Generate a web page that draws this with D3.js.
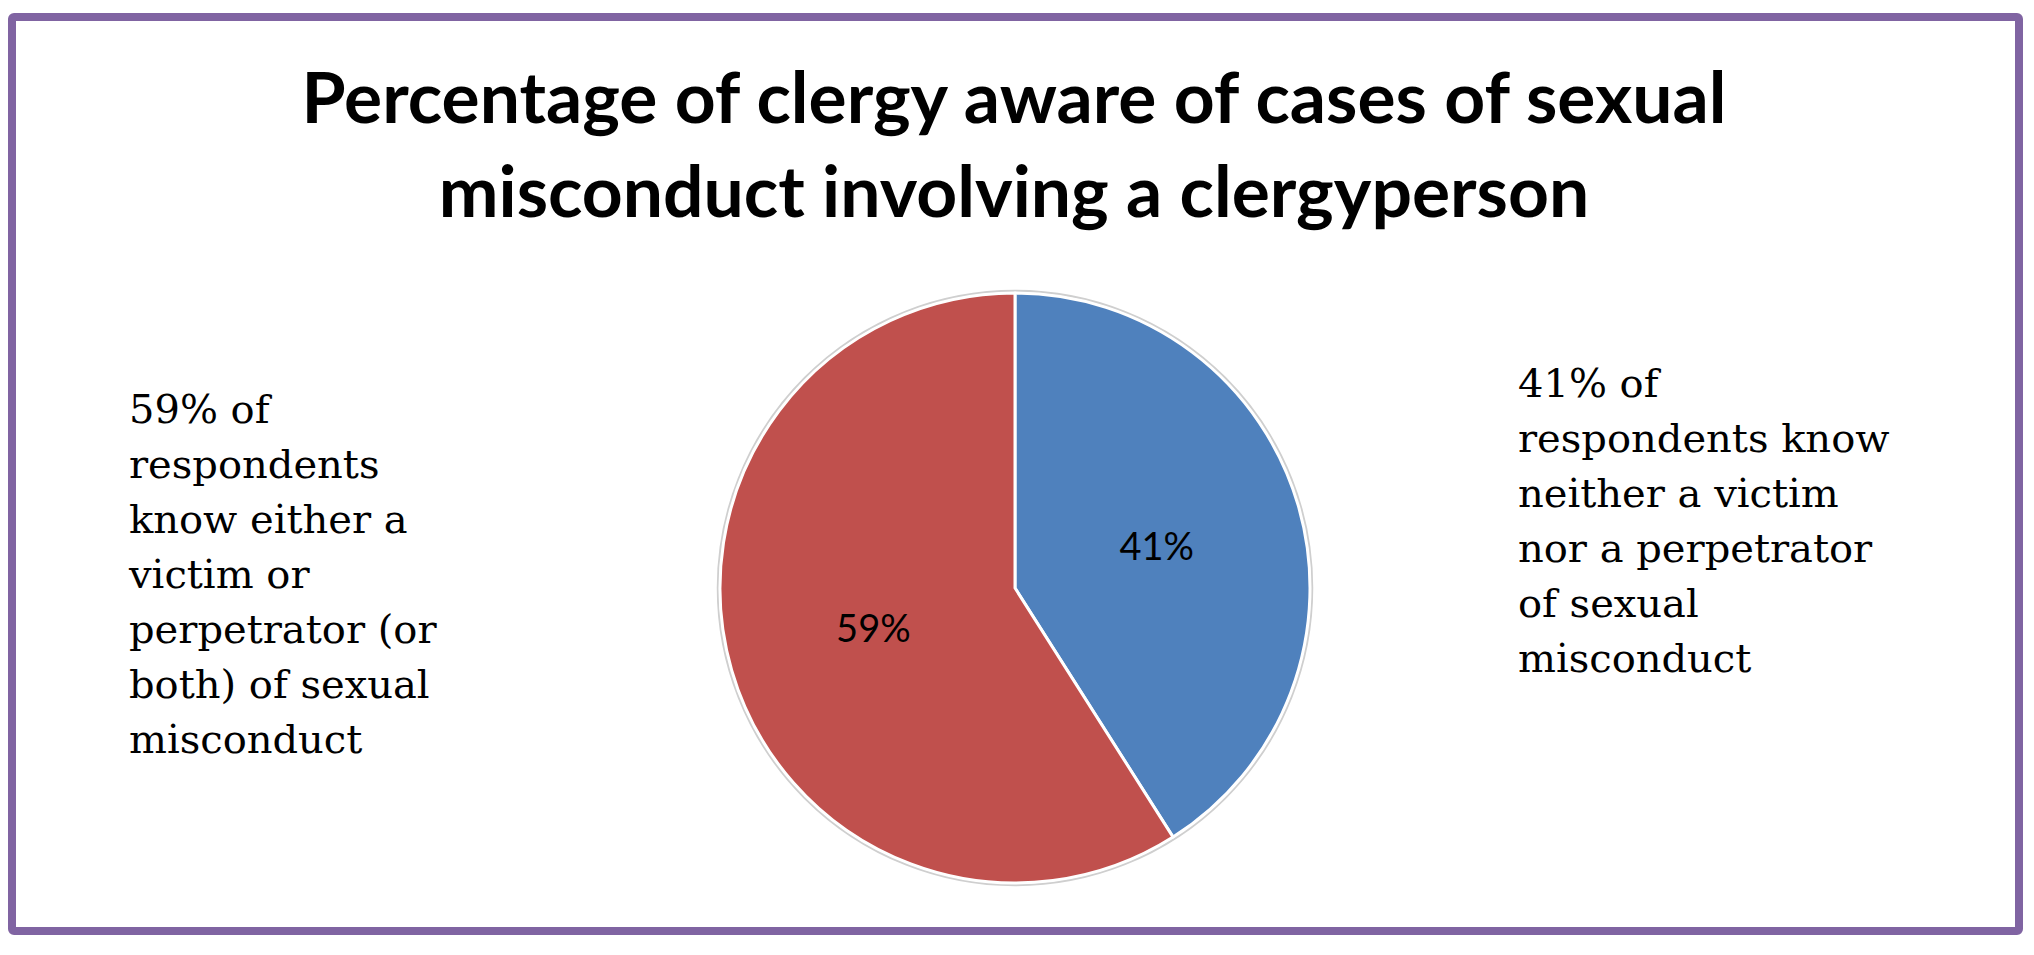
<!DOCTYPE html>
<html>
<head>
<meta charset="utf-8">
<script src="https://cdn.jsdelivr.net/npm/d3@7"></script>
<style>
  html, body { margin: 0; padding: 0; background: #ffffff; }
  svg { display: block; }
</style>
</head>
<body>
<svg id="chart" width="2034" height="955"></svg>
<script>
// ---- data ----
const categories = ["Know neither a victim nor a perpetrator", "Know either a victim or perpetrator (or both)"];
const values = [41, 59];
const sliceLabels = ["41%", "59%"];
const colors = ["#4F81BD", "#C0504D"];
const titleLines = ["Percentage of clergy aware of cases of sexual", "misconduct involving a clergyperson"];
const leftNote = ["59% of", "respondents", "know either a", "victim or", "perpetrator (or", "both) of sexual", "misconduct"];
const rightNote = ["41% of", "respondents know", "neither a victim", "nor a perpetrator", "of sexual", "misconduct"];

const svg = d3.select("#chart");

// frame
svg.append("rect")
  .attr("x", 12).attr("y", 17)
  .attr("width", 2007).attr("height", 914)
  .attr("rx", 2).attr("ry", 2)
  .attr("fill", "#ffffff")
  .attr("stroke", "#8064A2")
  .attr("stroke-width", 8);

// title
const title = svg.append("g")
  .attr("font-family", "Lato, 'Open Sans', sans-serif")
  .attr("font-weight", "bold")
  .attr("fill", "#000")
  .attr("text-anchor", "middle");
const titleBaselines = [123, 217];
const tl = title.selectAll("text").data(titleLines).join("text")
  .attr("x", 1014)
  .attr("y", (d, i) => titleBaselines[i])
  .attr("font-size", 60)
  .text(d => d);
// fit first line to reference width
const w0 = tl.nodes()[0].getComputedTextLength();
const fs = 60 * 1425 / w0;
tl.attr("font-size", fs);

// pie
const cx = 1015, cy = 588, R = 295;
const pie = d3.pie().sort(null).value(d => d);
const arcs = pie(values);
const arc = d3.arc().innerRadius(0).outerRadius(R);
const labelArc = d3.arc().innerRadius(R / 2).outerRadius(R / 2);

const g = svg.append("g").attr("transform", `translate(${cx},${cy})`);
// faint outer shadow ring
g.append("circle").attr("r", R + 2).attr("fill", "none")
  .attr("stroke", "#cfcfcf").attr("stroke-width", 2.5);
g.selectAll("path.slice").data(arcs).join("path")
  .attr("class", "slice")
  .attr("d", arc)
  .attr("fill", (d, i) => colors[i])
  .attr("stroke", "#ffffff")
  .attr("stroke-width", 3)
  .attr("stroke-linejoin", "round");

g.selectAll("text.lbl").data(arcs).join("text")
  .attr("class", "lbl")
  .attr("transform", d => `translate(${labelArc.centroid(d)})`)
  .attr("dy", "0.35em")
  .attr("text-anchor", "middle")
  .attr("font-family", "Lato, 'Open Sans', sans-serif")
  .attr("font-size", 38)
  .attr("fill", "#000")
  .text((d, i) => sliceLabels[i]);

// side notes
function note(lines, x, y0) {
  svg.append("g")
    .attr("font-family", "'DejaVu Serif', 'Liberation Serif', serif")
    .attr("font-size", 40)
    .attr("fill", "#000")
    .selectAll("text").data(lines).join("text")
    .attr("x", x)
    .attr("y", (d, i) => y0 + i * 55)
    .text(d => d);
}
note(leftNote, 129, 423);
note(rightNote, 1518, 397);
</script>
</body>
</html>
